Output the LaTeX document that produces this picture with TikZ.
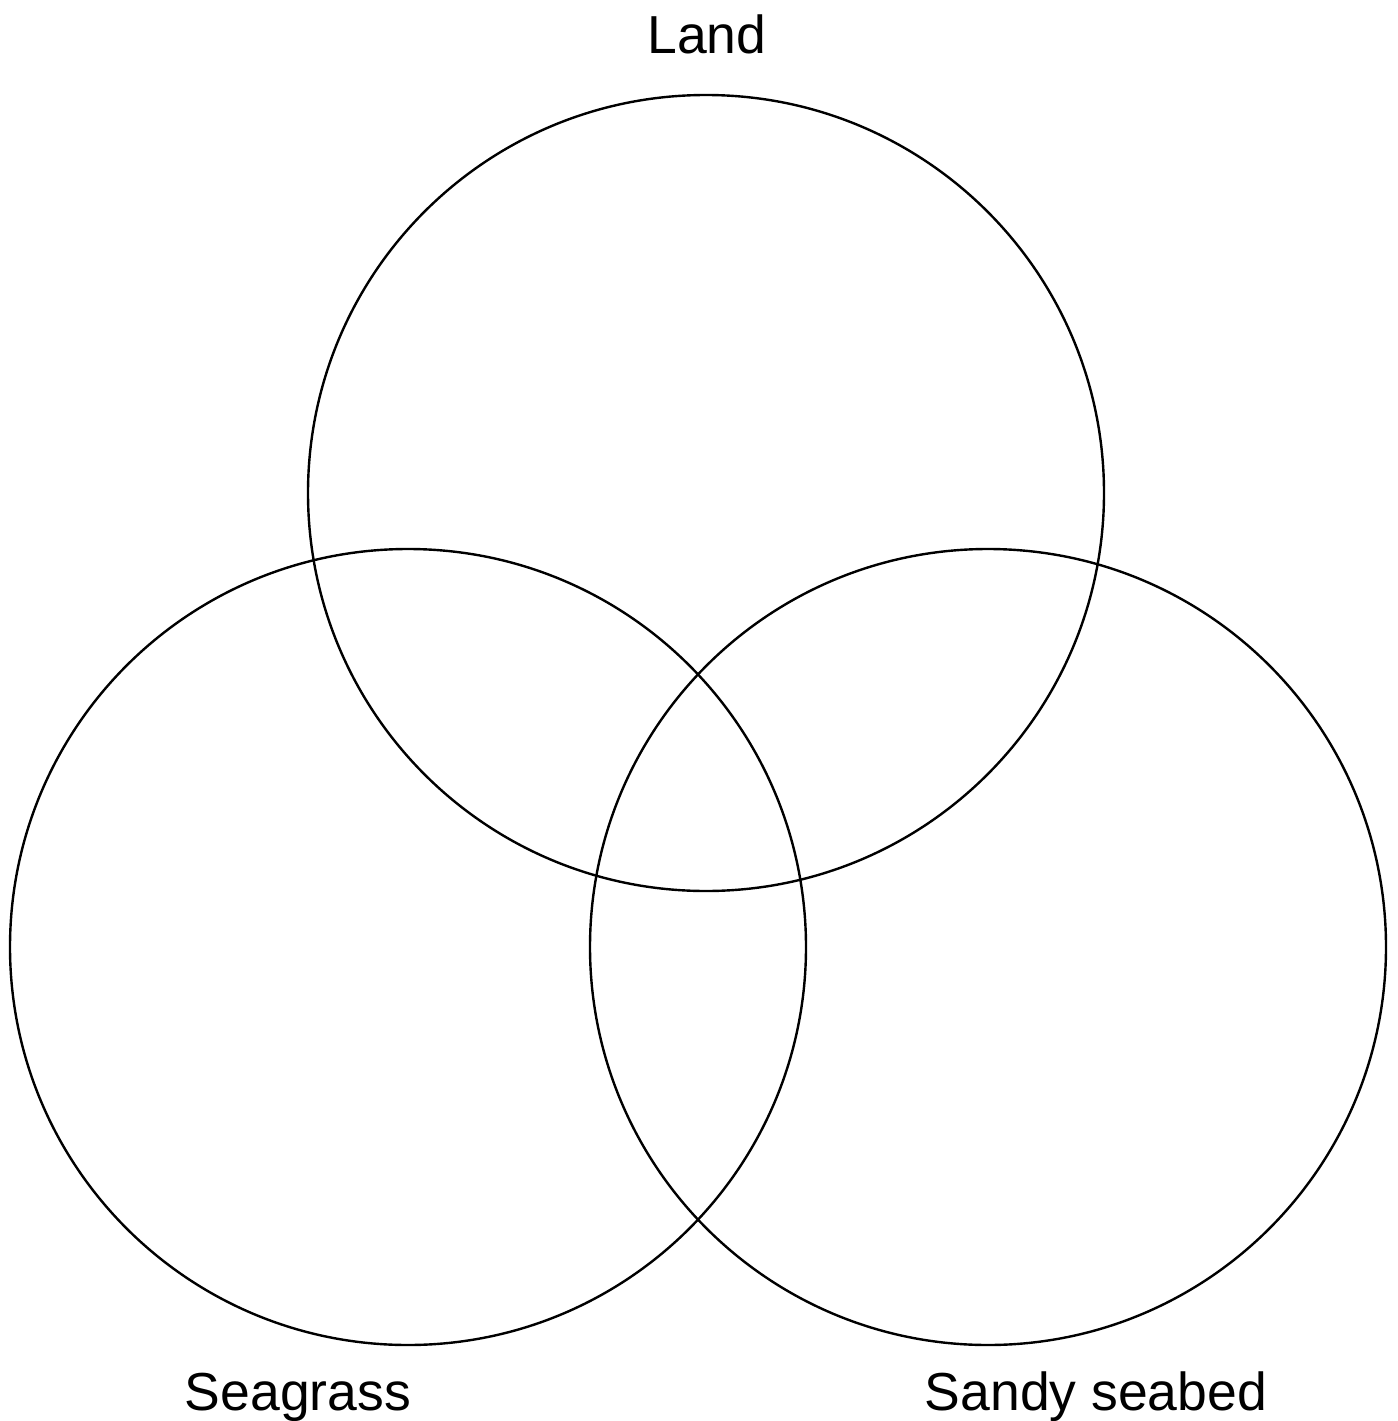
\documentclass[tikz,border=0pt]{standalone}
\usepackage{fontspec}
\setmainfont{Liberation Sans}
\begin{document}
\begin{tikzpicture}[x=1pt,y=-1pt,
  setcircle/.style={draw=black,line width=2.4pt,circle,minimum size=796pt,inner sep=0pt},
  setlabel/.style={anchor=base,inner sep=0pt,font=\fontsize{53.5pt}{60pt}\selectfont}]
\useasboundingbox (0,0) rectangle (1397,1421);
\node[setcircle] (land) at (706,493) {};
\node[setcircle] (seagrass) at (408,947) {};
\node[setcircle] (sandy) at (988,947) {};
\node[setlabel] (landlbl) at (707,53) {Land};
\node[setlabel] (seagrasslbl) at (298,1410) {Seagrass};
\node[setlabel] (sandylbl) at (1096,1410) {Sandy seabed};
\end{tikzpicture}
\end{document}
